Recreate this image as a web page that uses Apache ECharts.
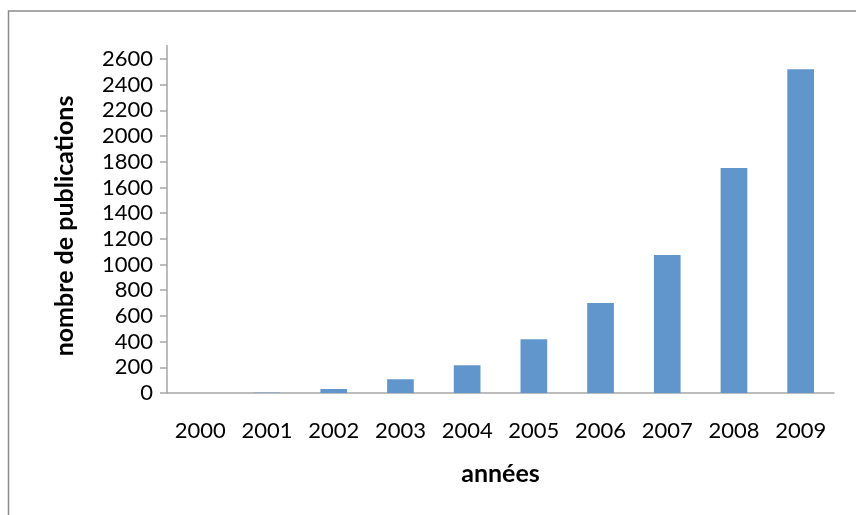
<!DOCTYPE html>
<html>
<head>
<meta charset="utf-8">
<script src="https://cdn.jsdelivr.net/npm/echarts@6/dist/echarts.min.js"></script>
<style>html,body{margin:0;padding:0;background:#fff}#c{width:856px;height:515px}</style>
</head>
<body>
<div id="c"></div>
<script>
var categories = ['2000','2001','2002','2003','2004','2005','2006','2007','2008','2009'];
var publications = [0, 3, 31, 107, 216, 418, 700, 1074, 1751, 2521];
var yTicks = {min: 0, max: 2600, interval: 200};
var xTitle = 'années';
var yTitle = 'nombre de publications';

var chart = echarts.init(document.getElementById('c'));
var font = 'Lato, Carlito, Calibri, sans-serif';
chart.setOption({
  animation: false,
  grid: {left: 167, right: 22, top: 59, bottom: 122},
  xAxis: {
    type: 'category',
    data: categories,
    name: xTitle,
    nameLocation: 'middle',
    nameGap: 68,
    nameTextStyle: {fontFamily: font, fontSize: 25, fontWeight: 'bold', color: '#000'},
    axisLine: {lineStyle: {color: '#a6a6a6', width: 1.5}},
    axisTick: {length: 7, lineStyle: {color: '#a6a6a6', width: 1.5}},
    axisLabel: {fontFamily: font, fontSize: 22, color: '#000', margin: 27, interval: 0}
  },
  yAxis: {
    type: 'value',
    min: yTicks.min, max: yTicks.max, interval: yTicks.interval,
    name: yTitle,
    nameLocation: 'middle',
    nameRotate: 90,
    nameGap: 90,
    nameTextStyle: {fontFamily: font, fontSize: 25, fontWeight: 'bold', color: '#000'},
    axisLine: {show: true, lineStyle: {color: '#a6a6a6', width: 1.5}},
    axisTick: {show: true, length: 7, lineStyle: {color: '#a6a6a6', width: 1.5}},
    splitLine: {show: false},
    axisLabel: {fontFamily: font, fontSize: 22, color: '#000', margin: 14,
      formatter: function (v) { return String(v); }}
  },
  series: [{
    type: 'bar',
    data: publications,
    barCategoryGap: '60%',
    itemStyle: {color: '#6096cb'}
  }],
  graphic: [
    {type: 'line', shape: {x1: 167, y1: 45, x2: 167, y2: 59}, style: {stroke: '#a6a6a6', lineWidth: 1.5}},
    {type: 'polyline', shape: {points: [[8.5, 515], [8.5, 11], [856, 11]]}, style: {stroke: '#8c8c8c', lineWidth: 1.5, fill: null}}
  ]
});
</script>
</body>
</html>
